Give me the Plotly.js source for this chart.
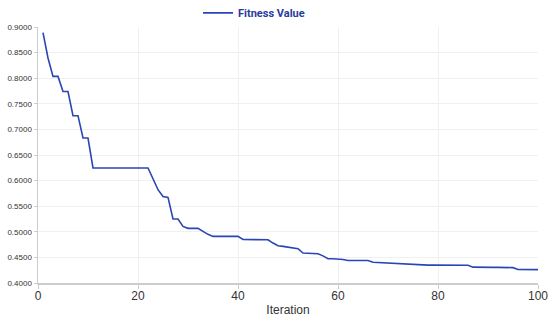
<!DOCTYPE html>
<html>
<head>
<meta charset="utf-8">
<script src="https://cdn.plot.ly/plotly-3.0.1.min.js"></script>
<style>html,body{margin:0;padding:0;background:#fff;}#chart{width:550px;height:323px;}</style>
</head>
<body>
<div id="chart"></div>
<script>
const iterations = [];
for (let i = 1; i <= 100; i++) iterations.push(i);

const fitnessValues = [
  0.8890, 0.8395, 0.8035, 0.8035, 0.7740, 0.7740, 0.7268, 0.7268, 0.6832, 0.6832,
  0.6246, 0.6246, 0.6246, 0.6246, 0.6246, 0.6246, 0.6246, 0.6246, 0.6246, 0.6246,
  0.6246, 0.6246, 0.6036, 0.5822, 0.5691, 0.5672, 0.5250, 0.5250, 0.5105, 0.5067,
  0.5067, 0.5067, 0.5008, 0.4950, 0.4910, 0.4910, 0.4910, 0.4910, 0.4910, 0.4910,
  0.4850, 0.4850, 0.4850, 0.4850, 0.4848, 0.4845, 0.4780, 0.4728, 0.4715, 0.4700,
  0.4690, 0.4670, 0.4586, 0.4580, 0.4575, 0.4570, 0.4530, 0.4474, 0.4474, 0.4474,
  0.4460, 0.4440, 0.4440, 0.4440, 0.4440, 0.4440, 0.4405, 0.4400, 0.4390, 0.4380,
  0.4375, 0.4370, 0.4365, 0.4363, 0.4360, 0.4355, 0.4350, 0.4350, 0.4350, 0.4350,
  0.4350, 0.4350, 0.4350, 0.4350, 0.4350, 0.4348, 0.4310, 0.4305, 0.4305, 0.4305,
  0.4305, 0.4305, 0.4305, 0.4302, 0.4300, 0.4265, 0.4262, 0.4262, 0.4262, 0.4262
];

const seriesName = 'Fitness Value';
const xTitle = 'Iteration';

const trace = {
  x: iterations,
  y: fitnessValues,
  type: 'scatter',
  mode: 'lines',
  name: seriesName,
  line: {color: '#2a45b4', width: 1.6},
  showlegend: true
};

const layout = {
  width: 550,
  height: 323,
  margin: {l: 38, r: 12, t: 27, b: 40, pad: 0, autoexpand: false},
  paper_bgcolor: '#ffffff',
  plot_bgcolor: '#ffffff',
  font: {family: 'Liberation Sans, Arial, sans-serif', color: '#333'},
  showlegend: true,
  legend: {
    orientation: 'h',
    x: 0.32,
    xanchor: 'left',
    yref: 'container',
    y: 0.96,
    yanchor: 'middle',
    font: {family: '"Liberation Sans Narrow", "Roboto", sans-serif', size: 11, color: '#2a3a9e', weight: 'bold'},
    bgcolor: 'rgba(0,0,0,0)'
  },
  xaxis: {
    range: [0, 100],
    dtick: 20,
    tick0: 0,
    showgrid: true,
    gridcolor: '#f0f0f0',
    gridwidth: 1,
    zeroline: false,
    showline: true,
    linecolor: '#cccccc',
    linewidth: 1.5,
    ticks: 'outside',
    ticklen: 4,
    tickcolor: '#cccccc',
    ticklabelstandoff: -3,
    tickfont: {size: 12, color: '#333'},
    title: {text: xTitle, font: {size: 12, color: '#333'}, standoff: 3}
  },
  yaxis: {
    range: [0.4, 0.9],
    dtick: 0.05,
    tick0: 0.4,
    tickformat: '.4f',
    showgrid: true,
    gridcolor: '#f0f0f0',
    gridwidth: 1,
    zeroline: false,
    showline: true,
    linecolor: '#cccccc',
    linewidth: 1.5,
    ticks: 'outside',
    ticklen: 3,
    tickcolor: '#cccccc',
    tickfont: {size: 8, color: '#333'}
  },
  hovermode: false
};

Plotly.newPlot('chart', [trace], layout, {displayModeBar: false, staticPlot: true});
</script>
</body>
</html>
